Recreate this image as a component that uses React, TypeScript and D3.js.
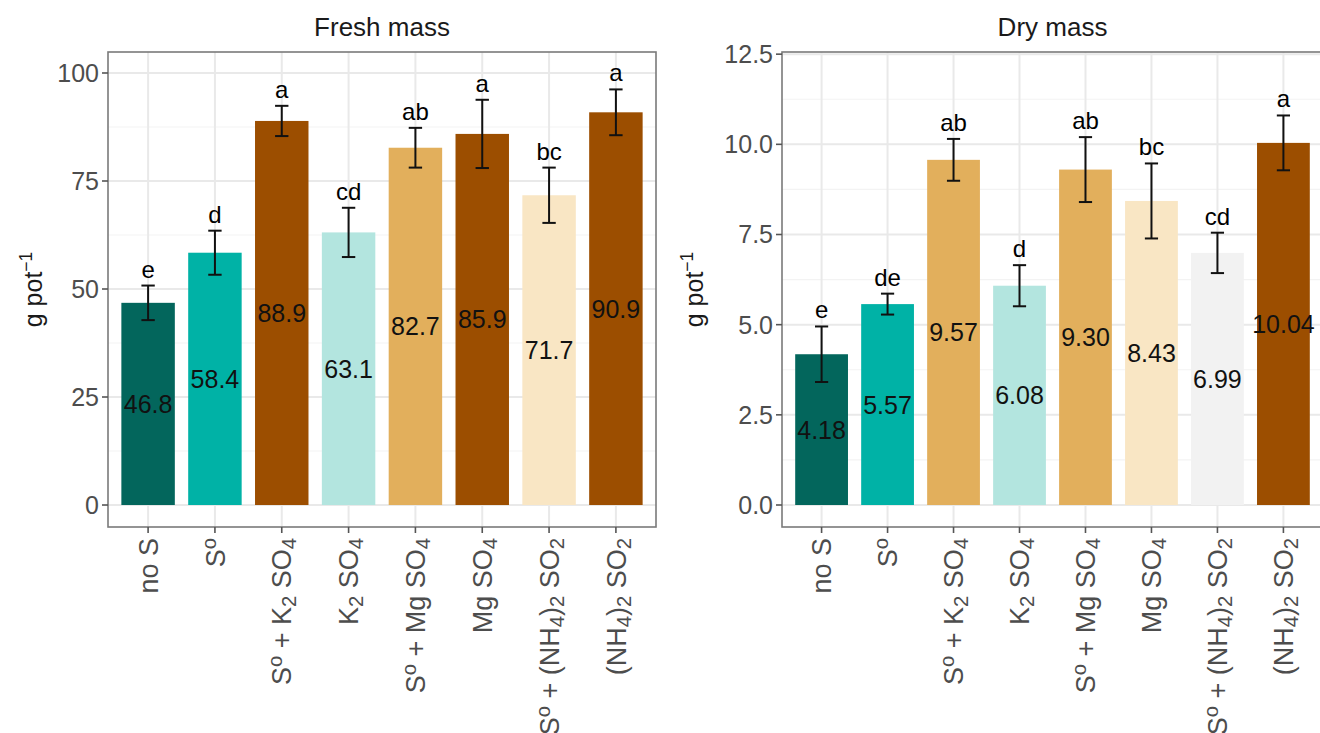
import React from 'react';
import * as d3 from 'd3';

// treatments, in plotting order
const categories = ['noS', 'S0', 'S0K2', 'K2', 'S0Mg', 'Mg', 'S0NH4', 'NH4'];

// x tick labels as text parts (sub / sup for chemistry formatting)
type Part = { t: string; s?: 'sub' | 'sup' };
const tickLabels: Part[][] = [
  [{ t: 'no S' }],
  [{ t: 'S' }, { t: 'o', s: 'sup' }],
  [{ t: 'S' }, { t: 'o', s: 'sup' }, { t: ' + K' }, { t: '2', s: 'sub' }, { t: ' SO' }, { t: '4', s: 'sub' }],
  [{ t: 'K' }, { t: '2', s: 'sub' }, { t: ' SO' }, { t: '4', s: 'sub' }],
  [{ t: 'S' }, { t: 'o', s: 'sup' }, { t: ' + Mg SO' }, { t: '4', s: 'sub' }],
  [{ t: 'Mg SO' }, { t: '4', s: 'sub' }],
  [{ t: 'S' }, { t: 'o', s: 'sup' }, { t: ' + (NH' }, { t: '4', s: 'sub' }, { t: ')' }, { t: '2', s: 'sub' }, { t: ' SO' }, { t: '2', s: 'sub' }],
  [{ t: '(NH' }, { t: '4', s: 'sub' }, { t: ')' }, { t: '2', s: 'sub' }, { t: ' SO' }, { t: '2', s: 'sub' }],
];

// fresh mass
const freshMass = [46.8, 58.4, 88.9, 63.1, 82.7, 85.9, 71.7, 90.9];
const freshErr = [4.0, 5.1, 3.5, 5.7, 4.6, 7.9, 6.4, 5.3];
const freshLetters = ['e', 'd', 'a', 'cd', 'ab', 'a', 'bc', 'a'];
const freshLabels = ['46.8', '58.4', '88.9', '63.1', '82.7', '85.9', '71.7', '90.9'];
const freshTicks = [0, 25, 50, 75, 100];

// dry mass
const dryMass = [4.18, 5.57, 9.57, 6.08, 9.3, 8.43, 6.99, 10.04];
const dryErr = [0.77, 0.29, 0.58, 0.57, 0.9, 1.04, 0.56, 0.76];
const dryLetters = ['e', 'de', 'ab', 'd', 'ab', 'bc', 'cd', 'a'];
const dryLabels = ['4.18', '5.57', '9.57', '6.08', '9.30', '8.43', '6.99', '10.04'];
const dryTicks = [0, 2.5, 5, 7.5, 10, 12.5];

// BrBG-like fills
const DTEAL = '#03665c';
const TEAL = '#00b2a6';
const MINT = '#b3e5df';
const TAN = '#e2af5c';
const CREAM = '#f9e6c4';
const GREY = '#f2f2f2';
const BROWN = '#9c4e00';
const freshFill = [DTEAL, TEAL, BROWN, MINT, TAN, BROWN, CREAM, BROWN];
const dryFill = [DTEAL, TEAL, TAN, MINT, TAN, CREAM, GREY, BROWN];

const FONT = '"Liberation Sans", Arial, Helvetica, sans-serif';

type PanelProps = {
  title: string;
  left: number;
  right: number;
  top: number;
  bottom: number;
  domain: [number, number];
  values: number[];
  errs: number[];
  letters: string[];
  labels: string[];
  fills: string[];
  ticks: number[];
  fmt: (v: number) => string;
  yTitleX: number;
};

const Label = ({ parts }: { parts: Part[] }) => (
  <>
    {parts.map((p, i) =>
      p.s ? (
        <tspan key={i} fontSize="75%" baselineShift={p.s === 'sub' ? '-25%' : '45%'}>
          {p.t}
        </tspan>
      ) : (
        <tspan key={i}>{p.t}</tspan>
      )
    )}
  </>
);

const Panel = (p: PanelProps) => {
  const x = d3.scaleBand<string>().domain(categories).range([p.left, p.right]).paddingInner(0.2).paddingOuter(0.2);
  const y = d3.scaleLinear().domain(p.domain).range([p.bottom, p.top]);
  const bw = x.bandwidth();
  const step = x.step();
  const minor = p.ticks.slice(0, -1).map((t, i) => (t + p.ticks[i + 1]) / 2);
  const cap = step * 0.1;
  const midY = (p.top + p.bottom) / 2;

  return (
    <g fontFamily={FONT}>
      <rect x={p.left} y={p.top} width={p.right - p.left} height={p.bottom - p.top} fill="#fff" />
      {minor.map((t) => (
        <line key={'mn' + t} x1={p.left} x2={p.right} y1={y(t)} y2={y(t)} stroke="#f3f3f3" strokeWidth={1.2} />
      ))}
      {p.ticks.map((t) => (
        <line key={'mj' + t} x1={p.left} x2={p.right} y1={y(t)} y2={y(t)} stroke="#e9e9e9" strokeWidth={2} />
      ))}
      {categories.map((c) => (
        <line key={'v' + c} x1={x(c)! + bw / 2} x2={x(c)! + bw / 2} y1={p.top} y2={p.bottom} stroke="#e9e9e9" strokeWidth={2} />
      ))}
      {categories.map((c, i) => (
        <rect key={'b' + c} x={x(c)!} y={y(p.values[i])} width={bw} height={y(0) - y(p.values[i])} fill={p.fills[i]} />
      ))}
      {categories.map((c, i) => {
        const cx = x(c)! + bw / 2;
        const hi = y(p.values[i] + p.errs[i]);
        const lo = y(p.values[i] - p.errs[i]);
        return (
          <g key={'e' + c} stroke="#111" strokeWidth={2}>
            <line x1={cx} x2={cx} y1={hi} y2={lo} />
            <line x1={cx - cap} x2={cx + cap} y1={hi} y2={hi} />
            <line x1={cx - cap} x2={cx + cap} y1={lo} y2={lo} />
          </g>
        );
      })}
      {categories.map((c, i) => (
        <text key={'l' + c} x={x(c)! + bw / 2} y={y(p.values[i] + p.errs[i]) - 8} textAnchor="middle" fontSize={24} fill="#000">
          {p.letters[i]}
        </text>
      ))}
      {categories.map((c, i) => (
        <text key={'vl' + c} x={x(c)! + bw / 2} y={y(p.values[i] / 2)} dy="0.36em" textAnchor="middle" fontSize={25} fill="#111">
          {p.labels[i]}
        </text>
      ))}
      <rect x={p.left} y={p.top} width={p.right - p.left} height={p.bottom - p.top} fill="none" stroke="#7a7a7a" strokeWidth={1.6} />
      {p.ticks.map((t) => (
        <g key={'yt' + t}>
          <line x1={p.left - 6} x2={p.left} y1={y(t)} y2={y(t)} stroke="#555" strokeWidth={1.6} />
          <text x={p.left - 9} y={y(t)} dy="0.36em" textAnchor="end" fontSize={25} fill="#4d4d4d">
            {p.fmt(t)}
          </text>
        </g>
      ))}
      {categories.map((c, i) => {
        const cx = x(c)! + bw / 2;
        return (
          <g key={'xt' + c}>
            <line x1={cx} x2={cx} y1={p.bottom} y2={p.bottom + 6} stroke="#555" strokeWidth={1.6} />
            <text
              transform={`translate(${cx},${p.bottom + 11}) rotate(-90)`}
              textAnchor="end"
              dy="0.36em"
              fontSize={27}
              fill="#4d4d4d"
            >
              <Label parts={tickLabels[i]} />
            </text>
          </g>
        );
      })}
      <text x={(p.left + p.right) / 2} y={p.top - 16} textAnchor="middle" fontSize={26} fill="#1a1a1a">
        {p.title}
      </text>
      <text transform={`translate(${p.yTitleX},${midY}) rotate(-90)`} textAnchor="middle" fontSize={25} fill="#1a1a1a">
        g pot
        <tspan fontSize="70%" baselineShift="55%">
          −1
        </tspan>
      </text>
    </g>
  );
};

export default function App() {
  return (
    <div style={{ position: 'absolute', left: 0, top: 0, width: 1320, height: 733, overflow: 'hidden', background: '#fff' }}>
      <svg width={1320} height={733} style={{ display: 'block' }}>
        <rect width={1320} height={733} fill="#fff" />
        <Panel
          title="Fresh mass"
          left={108}
          right={656}
          top={52}
          bottom={527}
          domain={[-5.09, 104.86]}
          values={freshMass}
          errs={freshErr}
          letters={freshLetters}
          labels={freshLabels}
          fills={freshFill}
          ticks={freshTicks}
          fmt={(v) => String(v)}
          yTitleX={42}
        />
        <Panel
          title="Dry mass"
          left={782}
          right={1323}
          top={52}
          bottom={527}
          domain={[-0.61, 12.56]}
          values={dryMass}
          errs={dryErr}
          letters={dryLetters}
          labels={dryLabels}
          fills={dryFill}
          ticks={dryTicks}
          fmt={(v) => v.toFixed(1)}
          yTitleX={703}
        />
      </svg>
    </div>
  );
}
